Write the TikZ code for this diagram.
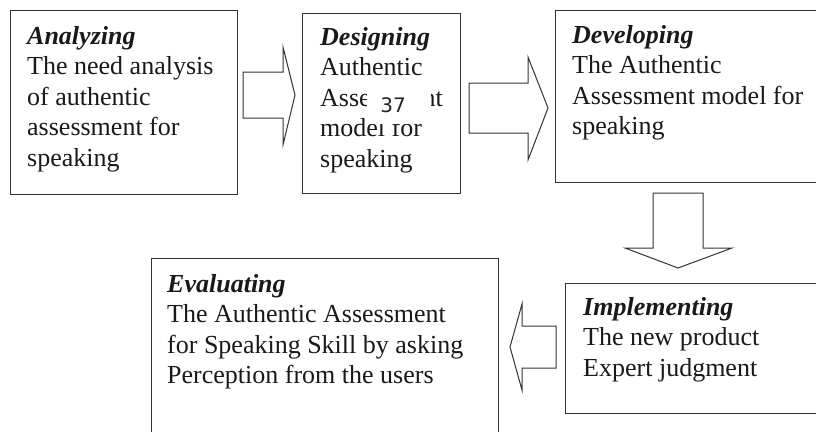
\documentclass[tikz,border=0pt]{standalone}
\usepackage{fontspec}
\setmainfont{Liberation Serif}
\newfontfamily\pagenofont{DejaVu Sans}
\begin{document}
\begin{tikzpicture}[x=1pt,y=-1pt,
  stage/.style={draw=black!80, line width=1pt, inner sep=0pt, anchor=north west},
  blockarrow/.style={draw=black!80, line width=1pt, fill=white, line join=miter},
  boxtext/.style={anchor=north west, align=left, inner sep=0pt, font=\fontsize{26}{30.5}\selectfont, text=black!90}]
\useasboundingbox (0,0) rectangle (816,431);
\clip (0,0) rectangle (816,431);
% stage boxes
\node[stage, minimum width=227pt, minimum height=184pt] (ana) at (10,10) {};
\node[stage, minimum width=158pt, minimum height=180pt] (des) at (302,13) {};
\node[stage, minimum width=275pt, minimum height=172pt] (dev) at (555,10) {};
\node[stage, minimum width=265pt, minimum height=130pt] (imp) at (565,283) {};
\node[stage, minimum width=347pt, minimum height=192pt] (eva) at (151,258) {};
% block arrows
\draw[blockarrow] (243,72) -- (283,72) -- (283,47) -- (295,95) -- (283,145) -- (283,118) -- (243,118) -- cycle;
\draw[blockarrow] (469,83) -- (528,83) -- (528,57) -- (548,108) -- (528,160) -- (528,133) -- (469,133) -- cycle;
\draw[blockarrow] (653,193) -- (703,193) -- (703,248) -- (732,248) -- (678,268) -- (625,248) -- (653,248) -- cycle;
\draw[blockarrow] (556,326) -- (522,326) -- (522,304) -- (510,347) -- (522,390) -- (522,368) -- (556,368) -- cycle;
% texts
\node[boxtext] (t1) at (27,26) {\textbf{\textit{Analyzing}}\\The need analysis\\of authentic\\assessment for\\speaking};
\node[boxtext] (t2) at (320,27) {\textbf{\textit{Designing}}\\Authentic\\Assessment\\model for\\speaking};
\node[boxtext] (t3) at (572,25) {\textbf{\textit{Developing}}\\The Authentic\\Assessment model for\\speaking};
\node[boxtext] (t4) at (167,274) {\textbf{\textit{Evaluating}}\\The Authentic Assessment\\for Speaking Skill by asking\\Perception from the users};
\node[boxtext] (t5) at (583,297) {\textbf{\textit{Implementing}}\\The new product\\Expert judgment};
% page number overlay
\node[fill=white, inner sep=0pt, minimum width=64pt, minimum height=34pt] (cover) at (399,107) {};
\node[inner sep=0pt, font=\pagenofont\fontsize{20}{20}\selectfont, text=black!85] (pgno) at (393,105) {37};
\end{tikzpicture}
\end{document}
